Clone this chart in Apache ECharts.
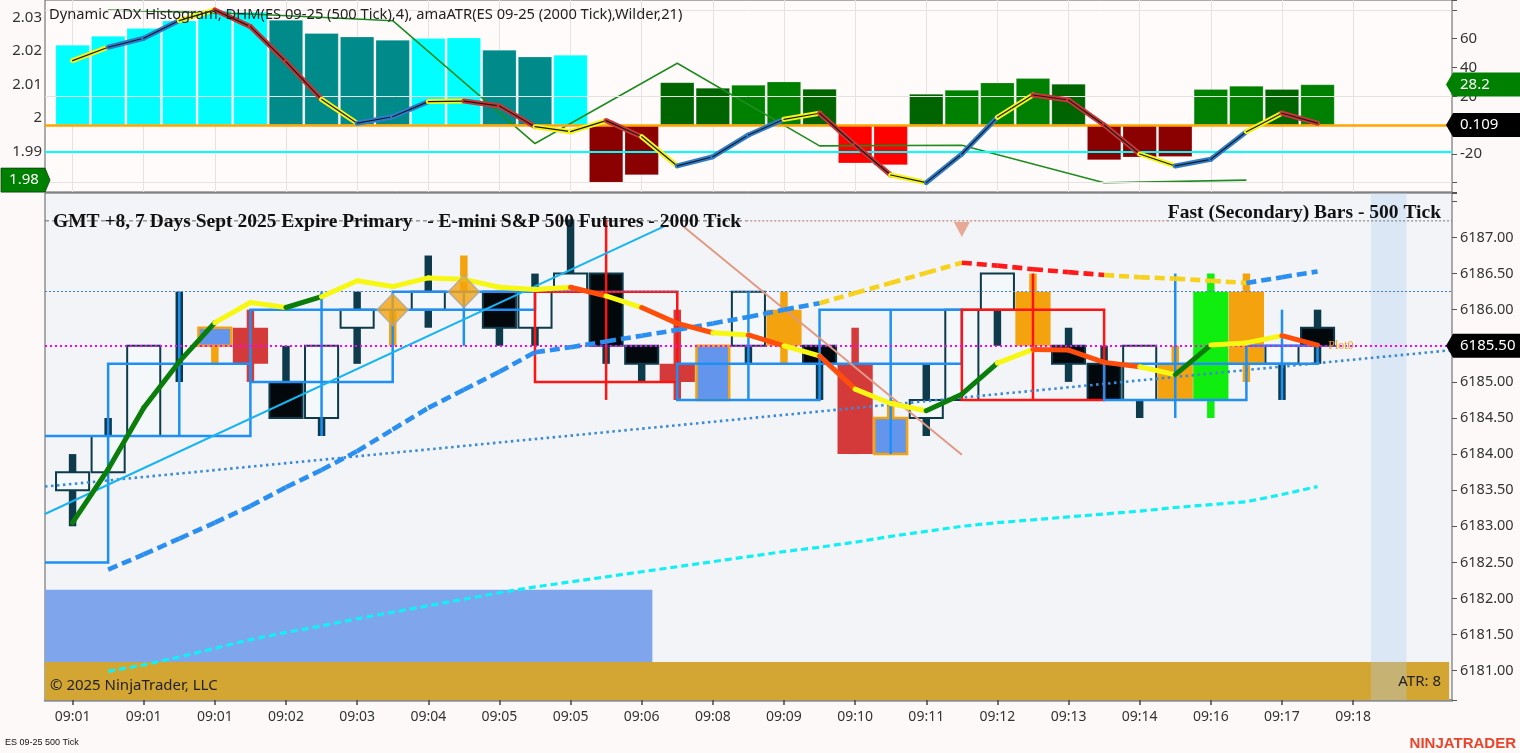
<!DOCTYPE html>
<html><head><meta charset="utf-8">
<script src="https://cdn.jsdelivr.net/npm/echarts@6/dist/echarts.min.js"></script>
<style>html,body{margin:0;padding:0;background:#fdf9f9;}#c{width:1520px;height:753px;}</style>
</head><body><div id="c"></div>
<script>
// ================= DATA =================
const timeLabels = ['09:01','09:01','09:01','09:02','09:03','09:04','09:05','09:05','09:06','09:08','09:09','09:10','09:11','09:12','09:13','09:14','09:16','09:17','09:18'];
const priceTickLabels = ['6181.00','6181.50','6182.00','6182.50','6183.00','6183.50','6184.00','6184.50','6185.00','6185.50','6186.00','6186.50','6187.00'];
const topLeftTickLabels = ['1.99','2','2.01','2.02','2.03'];
const topRightTickLabels = ['-20','20','40','60'];
const topGridLevels = [80, 20, -40];

// --- top panel: histogram (one bar per 500-tick bar) ---
const histVals = [55.7,61.9,67.3,72.6,80.0,78.6,73.0,63.8,61.4,59.1,60.3,60.7,52.2,47.5,48.7,-40.0,-34.7,29.7,25.8,27.9,30.2,25.1,-26.5,-27.7,21.6,24.4,29.5,32.5,28.6,-24.3,-22.4,-22.0,24.9,27.2,24.9,28.2];
const histState = ['c','c','c','c','c','c','t','t','t','t','c','c','t','t','c','m','m','d','d','g','g','d','r','r','d','g','g','g','d','m','m','m','g','g','d','g'];
// --- top panel: ADX line ---
const adxVals = [44.8,54.1,60.3,72.6,80.0,68.4,44.0,17.9,1.3,5.8,16.3,16.7,13.3,-1.1,-4.6,3.1,-8.1,-28.4,-22.0,-6.9,4.0,8.2,-13.8,-34.7,-40.0,-20.1,5.4,20.9,17.4,0.1,-20.1,-28.4,-23.8,-4.6,8.2,1.3];
const adxState = 'YBBYRRRYBBYRRYYRYBBBYRRYBBYRRRYBBYR'.split('');
// --- top panel: amaATR (2000 tick, left axis) ---
const atrSlots = [1,5,9,13,17,21,25,29,33];
const atrVals = [2.0322,2.0310,2.0290,1.9924,2.0163,1.9917,1.9919,1.9807,1.9815];
const atrLevel = 1.9909;
const zeroLineLabel = '0.109';
const zeroLineValue = 0.109;

// --- main panel: 500-tick candles ---
const candleOpen  = [6183.5,6183.75,6184.25,6185.5,6185.5,6185.75,6185.0,6184.5,6185.75,6186.0,6186.0,6186.25,6186.25,6185.75,6186.25,6186.5,6185.5,6185.25,6185.5,6185.5,6186.0,6185.5,6185.25,6184.5,6184.5,6184.75,6186.0,6186.25,6185.5,6185.25,6184.75,6185.25,6186.25,6186.25,6185.25,6185.75];
const candleClose = [6183.75,6184.25,6185.5,6185.5,6185.75,6185.25,6184.5,6185.5,6186.0,6186.0,6186.25,6186.25,6185.75,6186.25,6186.5,6185.5,6185.25,6185.0,6184.75,6186.25,6185.5,6185.25,6184.0,6184.0,6184.75,6186.0,6186.5,6185.5,6185.25,6184.75,6185.5,6184.75,6184.75,6185.25,6185.5,6185.5];
const candleHigh  = [6184.0,6184.5,6185.5,6186.25,6185.75,6186.0,6185.5,6185.5,6186.25,6186.0,6186.75,6186.75,6186.25,6186.5,6187.25,6186.5,6185.5,6186.0,6185.5,6186.25,6186.25,6185.5,6185.75,6184.75,6185.25,6186.0,6186.5,6186.5,6185.75,6185.5,6185.5,6185.5,6186.5,6186.5,6185.5,6186.0];
const candleLow   = [6183.0,6183.75,6184.25,6185.0,6185.25,6185.0,6184.5,6184.25,6185.25,6185.5,6185.75,6186.25,6185.5,6185.5,6186.25,6185.25,6185.0,6184.75,6184.75,6185.25,6185.25,6184.75,6184.0,6184.0,6184.25,6184.75,6185.5,6185.5,6185.0,6184.75,6184.5,6184.75,6184.5,6185.0,6184.75,6185.25];
const candleKind = ['U','U','U','D','B','R','D','U','U','O','U','O','D','U','U','D','D','R','B','U','O','D','R','B','U','U','U','O','D','D','U','O','L','O','U','D'];

// --- main panel: 2000-tick bars (span in 500-tick slots) ---
const boxStart = [-3,1,5,9,13,17,21,25,29,33];
const boxEnd   = [1,5,9,13,17,21,25,29,33,35];
const boxOpen  = [6182.5,6184.25,6185.0,6186.0,6186.25,6184.75,6185.25,6186.0,6184.75,6185.25];
const boxClose = [6184.25,6185.25,6186.0,6186.25,6185.0,6185.25,6186.0,6184.75,6185.25,6185.5];
const boxHigh  = [6184.25,6186.25,6186.25,6186.25,6187.25,6186.25,6186.0,6186.5,6186.5,6186.0];
const boxLow   = [6182.5,6184.25,6184.25,6185.5,6184.75,6184.75,6184.0,6184.75,6184.5,6184.75];

// --- main panel: indicator lines ---
const maVals = [6183.05,6183.79,6184.64,6185.28,6185.82,6186.10,6186.03,6186.18,6186.40,6186.32,6186.44,6186.42,6186.31,6186.28,6186.31,6186.19,6186.03,6185.81,6185.68,6185.65,6185.50,6185.36,6184.90,6184.70,6184.60,6184.83,6185.26,6185.45,6185.44,6185.27,6185.21,6185.10,6185.51,6185.54,6185.64,6185.51];
const maState = 'GGGGYYGYYYYYYYRYRRYRYRYYGGYRRRYGYYR'.split('');
const slowVals = [6182.40,6182.61,6182.83,6183.05,6183.28,6183.54,6183.78,6184.04,6184.34,6184.64,6184.89,6185.14,6185.41,6185.48,6185.56,6185.64,6185.72,6185.81,6185.90,6186.00,6186.09,6186.23,6186.37,6186.51,6186.65,6186.61,6186.56,6186.52,6186.48,6186.45,6186.43,6186.40,6186.37,6186.45,6186.53];
const slowState = 'BBBBBBBBBBBBBBBBBBBBYYYYRRRRYYYYBB'.split('');
const cyanVals = [6180.99,6181.08,6181.19,6181.31,6181.43,6181.53,6181.62,6181.72,6181.81,6181.90,6181.99,6182.08,6182.16,6182.23,6182.30,6182.37,6182.44,6182.51,6182.58,6182.65,6182.71,6182.78,6182.86,6182.93,6183.00,6183.05,6183.09,6183.13,6183.17,6183.21,6183.26,6183.30,6183.34,6183.44,6183.55];
const lineStartSlot = 1;

// drawn objects
const dotTrendX = [-0.775, 38.78], dotTrendY = [6183.55, 6185.44];
const skyTrendX = [-0.775, 16.66], skyTrendY = [6183.17, 6187.16];
const salmonX = [17.155, 25.0], salmonY = [6187.16, 6183.99];
const stripX = [-0.775, 18.94, 30.77, 38.78], stripLevel = 6187.23;
const lastPrice = 6185.5, lastPriceLabel = '6185.50';
const levelLine = 6186.25;
const diamondSlots = [9, 11], diamondVals = [6186.0, 6186.25];
const triSlots = [25], triVals = [6187.11];
const zoneBlue = {x0: -0.775, x1: 16.3, y0: 6182.12, y1: 6181.12};
const zoneGold = {x0: -0.775, x1: 38.7, y0: 6181.12, y1: 6180.0};
const nextBarSlot = 37;
const plotLabelSlot = 35.3;
const atrText = 'ATR: 8';

// ================= STYLES =================
const X_MIN = -0.775, X_MAX = 38.78;
const HIST_COLORS = {c:'#00ffff', t:'#008b8b', m:'#8b0000', d:'#006400', g:'#008000', r:'#ff0000'};
const ADX_COLORS = {Y:'#f4f41c', B:'#2e7dcc', R:'#c83636'};
const MA_COLORS = {G:'#0a7d0a', Y:'#f7f714', R:'#ff4d0c'};
const SLOW_COLORS = {B:'#2b8ff2', Y:'#f7d21c', R:'#ff1a1a'};
const KIND_STYLE = {
  U:{fill:'#f5f8fb', stroke:'#0d3b4b', lw:2, wick:'#0d3b4b', w:0.93},
  D:{fill:'#02080c', stroke:'#0d3b4b', lw:2, wick:'#0d3b4b', w:0.93},
  O:{fill:'#f4a30e', stroke:null, lw:0, wick:'#f4a30e', w:0.99},
  R:{fill:'#d43a3a', stroke:null, lw:0, wick:'#d43a3a', w:0.99},
  L:{fill:'#0fee0f', stroke:null, lw:0, wick:'#0fee0f', w:0.99},
  B:{fill:'#6495ed', stroke:'#f4a30e', lw:2.5, wick:'#f4a30e', w:0.92}
};
const FONT = 'Noto Sans';

function numFmt(labels) {
  return v => { for (const l of labels) { if (Math.abs(parseFloat(l) - v) < 1e-7) return l; } return ''; };
}
function timeFmt(v) {
  const r = Math.round(v);
  if (Math.abs(v - r) > 1e-6 || r % 2 !== 0) return '';
  return timeLabels[r / 2] || '';
}
const timeTickSlots = timeLabels.map((_, i) => i * 2);

function segmentSeries(o) {
  const data = [];
  for (let i = 0; i < o.vals.length - 1; i++) data.push([o.xs[i], o.vals[i], o.xs[i + 1], o.vals[i + 1]]);
  return {
    type:'custom', xAxisIndex:o.xi, yAxisIndex:o.yi, z:o.z, clip:true, silent:true,
    encode:{x:[0,2], y:[1,3]}, data,
    renderItem:(params, api) => {
      const a = api.coord([api.value(0), api.value(1)]);
      const b = api.coord([api.value(2), api.value(3)]);
      const col = o.colors[o.states[params.dataIndex]];
      const ch = [{type:'line', shape:{x1:a[0], y1:a[1], x2:b[0], y2:b[1]},
        style:{stroke:col, lineWidth:o.width, lineDash:o.dash || null, lineCap:o.cap || 'butt', fill:null}}];
      if (o.inner) ch.push({type:'line', shape:{x1:a[0], y1:a[1], x2:b[0], y2:b[1]},
        style:{stroke:o.inner, lineWidth:1.2, lineCap:'round', fill:null}});
      return {type:'group', children:ch};
    }
  };
}
function rectSeries(rects, fills, z) {
  return {
    type:'custom', xAxisIndex:1, yAxisIndex:2, z, clip:true, silent:true,
    encode:{x:[0,1], y:[2,3]},
    data: rects.map(r => [r.x0, r.x1, r.y0, r.y1]),
    renderItem:(params, api) => {
      const a = api.coord([api.value(0), api.value(2)]);
      const b = api.coord([api.value(1), api.value(3)]);
      return {type:'rect', shape:{x:a[0], y:a[1], width:b[0]-a[0], height:b[1]-a[1]}, style:{fill:fills[params.dataIndex]}};
    }
  };
}
const slotXs = (n, start) => Array.from({length:n}, (_, i) => i + start);

const chart = echarts.init(document.getElementById('c'));

const series = [];
// ---------- TOP PANEL ----------
series.push({ // grid lines
  type:'line', xAxisIndex:0, yAxisIndex:1, z:0, silent:true, symbol:'none', data:[[0, 0]],
  lineStyle:{width:0},
  markLine:{silent:true, symbol:'none', label:{show:false}, animation:false,
    data: topGridLevels.map(v => ({yAxis:v, lineStyle:{color:'#e6e2e2', width:1, type:'solid'}}))}
});
series.push({
  type:'bar', xAxisIndex:0, yAxisIndex:1, z:2, barWidth:34, silent:true,
  data: histVals.map((v, i) => ({value:[i, v], itemStyle:{color:HIST_COLORS[histState[i]], borderColor:'rgba(255,255,255,0.35)', borderWidth:0.6}})),
  markLine:{silent:true, symbol:'none', label:{show:false}, animation:false,
    data:[{yAxis:0, lineStyle:{color:'#ffa500', width:2.5, type:'solid'}}]}
});
series.push({
  type:'line', xAxisIndex:0, yAxisIndex:0, z:4, silent:true, symbol:'none',
  data: atrSlots.map((s, i) => [s, atrVals[i]]),
  lineStyle:{color:'#1f8c1f', width:1.6},
  markLine:{silent:true, symbol:'none', label:{show:false}, animation:false,
    data:[{yAxis:atrLevel, lineStyle:{color:'#00ffff', width:2.2, type:'solid'}}]}
});
series.push(segmentSeries({xs:slotXs(adxVals.length, 0), vals:adxVals, states:adxState, colors:ADX_COLORS, width:5, cap:'round', inner:'#1a1a1a', xi:0, yi:1, z:5}));

// ---------- MAIN PANEL ----------
series.push(rectSeries([zoneBlue, zoneGold], ['#7fa6ec', '#d3a634'], 1));
series.push(rectSeries([{x0:nextBarSlot - 0.5, x1:nextBarSlot + 0.5, y0:6190, y1:6170}], ['rgba(173,205,240,0.34)'], 2));
// candles
series.push({
  type:'custom', xAxisIndex:1, yAxisIndex:2, z:3, clip:true, silent:true,
  encode:{x:0, y:[1,2,3,4]},
  data: candleOpen.map((o, i) => [i, o, candleClose[i], candleHigh[i], candleLow[i]]),
  renderItem:(params, api) => {
    const s = api.value(0);
    const st = KIND_STYLE[candleKind[params.dataIndex]];
    const slotW = api.size([1, 0])[0];
    const bw = slotW * st.w, ww = slotW * 0.21;
    const pO = api.coord([s, api.value(1)]), pC = api.coord([s, api.value(2)]);
    const pH = api.coord([s, api.value(3)]), pL = api.coord([s, api.value(4)]);
    const cx = pO[0], top = Math.min(pO[1], pC[1]), bot = Math.max(pO[1], pC[1]);
    const ch = [];
    if (pL[1] - pH[1] > 0.5) ch.push({type:'rect', shape:{x:cx - ww/2, y:pH[1], width:ww, height:pL[1] - pH[1]}, style:{fill:st.wick}});
    if (bot - top > 0.5) ch.push({type:'rect', shape:{x:cx - bw/2, y:top, width:bw, height:bot - top},
      style:{fill:st.fill, stroke:st.stroke, lineWidth:st.lw}});
    return {type:'group', children:ch};
  }
});
// 2000-tick boxes
series.push({
  type:'custom', xAxisIndex:1, yAxisIndex:2, z:4, clip:true, silent:true,
  encode:{x:[0,1], y:[2,3,4,5]},
  data: boxStart.map((s, i) => [s, boxEnd[i], boxOpen[i], boxClose[i], boxHigh[i], boxLow[i]]),
  renderItem:(params, api) => {
    const x0 = api.value(0), x1 = api.value(1), o = api.value(2), c = api.value(3);
    const col = c >= o ? '#1e8ff5' : '#ff1414';
    const a = api.coord([x0, Math.max(o, c)]), b = api.coord([x1, Math.min(o, c)]);
    const xm = (x0 + x1) / 2;
    const h = api.coord([xm, api.value(4)]), l = api.coord([xm, api.value(5)]);
    return {type:'group', children:[
      {type:'line', shape:{x1:h[0], y1:h[1], x2:l[0], y2:l[1]}, style:{stroke:col, lineWidth:2.5}},
      {type:'rect', shape:{x:a[0], y:a[1], width:b[0] - a[0], height:b[1] - a[1]}, style:{fill:null, stroke:col, lineWidth:2.5}}
    ]};
  }
});
// horizontal levels
series.push({
  type:'line', xAxisIndex:1, yAxisIndex:2, z:5, silent:true, symbol:'none', data:[[0, lastPrice]], lineStyle:{width:0},
  markLine:{silent:true, symbol:'none', label:{show:false}, animation:false, data:[
    {yAxis:levelLine, lineStyle:{color:'#3f7fe0', width:1, type:[2,2]}},
    {yAxis:lastPrice, lineStyle:{color:'#ff00ff', width:2.2, type:[2,3]}}
  ]}
});
// strip line through title
const stripStyles = [{color:'#666', type:[4,3], width:1}, {color:'#b46a5a', type:[2,2], width:1}, {color:'#777', type:[2,2], width:1}];
for (let i = 0; i < stripX.length - 1; i++) {
  series.push({type:'line', xAxisIndex:1, yAxisIndex:2, z:5, silent:true, symbol:'none',
    data:[[stripX[i], stripLevel], [stripX[i + 1], stripLevel]], lineStyle:stripStyles[i]});
}
series.push({type:'line', xAxisIndex:1, yAxisIndex:2, z:6, silent:true, symbol:'none',
  data: dotTrendX.map((x, i) => [x, dotTrendY[i]]), lineStyle:{color:'#3a8ad6', width:2.6, type:[2.5,3.5]}});
series.push({type:'line', xAxisIndex:1, yAxisIndex:2, z:6, silent:true, symbol:'none',
  data: skyTrendX.map((x, i) => [x, skyTrendY[i]]), lineStyle:{color:'#17b4f2', width:2}});
series.push({type:'line', xAxisIndex:1, yAxisIndex:2, z:6, silent:true, symbol:'none',
  data: salmonX.map((x, i) => [x, salmonY[i]]), lineStyle:{color:'#e09a84', width:2}});
series.push({type:'line', xAxisIndex:1, yAxisIndex:2, z:6, silent:true, symbol:'none',
  data: cyanVals.map((v, i) => [i + lineStartSlot, v]), lineStyle:{color:'#13f0f5', width:3.2, type:[7,4]}});
series.push(segmentSeries({xs:slotXs(slowVals.length, lineStartSlot), vals:slowVals, states:slowState, colors:SLOW_COLORS, width:4.6, dash:[10,5], xi:1, yi:2, z:7}));
series.push(segmentSeries({xs:slotXs(maVals.length, 0), vals:maVals, states:maState, colors:MA_COLORS, width:5, cap:'round', xi:1, yi:2, z:8}));
series.push({type:'scatter', xAxisIndex:1, yAxisIndex:2, z:9, silent:true, symbol:'diamond', symbolSize:[31,32],
  data: diamondSlots.map((s, i) => [s, diamondVals[i]]), itemStyle:{color:'#f4a30e', borderColor:'#a8a8a8', borderWidth:1.5}});
series.push({type:'scatter', xAxisIndex:1, yAxisIndex:2, z:9, silent:true, symbol:'triangle', symbolRotate:180, symbolSize:[16,15],
  data: triSlots.map((s, i) => [s, triVals[i]]), itemStyle:{color:'#e4967c'}});

const axisLabelBase = {color:'#333', fontSize:14, fontFamily:FONT, padding:[4,0,0,0]};
const option = {
  animation:false,
  backgroundColor:'#fdf9f9',
  grid:[
    {left:45, right:68, top:0, height:192, show:true, backgroundColor:'#fffbfb', borderColor:'#5a5a5a', borderWidth:1, containLabel:false, outerBoundsMode:'none'},
    {left:45, right:68, top:193, height:507, show:true, backgroundColor:'#f3f4f7', borderColor:'#5a5a5a', borderWidth:1, containLabel:false, outerBoundsMode:'none'}
  ],
  xAxis:[
    {gridIndex:0, type:'value', min:X_MIN, max:X_MAX, minInterval:2, maxInterval:2,
      axisLine:{show:false, onZero:false}, axisTick:{show:false, customValues:timeTickSlots}, axisLabel:{show:false, customValues:timeTickSlots},
      splitLine:{show:true, lineStyle:{color:'#e6e2e2', width:1}}},
    {gridIndex:1, type:'value', min:X_MIN, max:X_MAX, minInterval:2, maxInterval:2,
      axisLine:{show:true, onZero:false, lineStyle:{color:'#8e8e8e', width:2.5}},
      axisTick:{show:true, length:5, lineStyle:{color:'#444', width:1.5}, customValues:timeTickSlots},
      axisLabel:{show:true, customValues:timeTickSlots, formatter:timeFmt, color:'#333', fontSize:14, fontFamily:FONT, margin:10},
      splitLine:{show:false}}
  ],
  yAxis:[
    {gridIndex:0, type:'value', position:'left', min:1.97796, max:2.03516, minInterval:0.01, maxInterval:0.01,
      axisLine:{show:false, onZero:false}, axisTick:{show:false}, splitLine:{show:false},
      axisLabel:Object.assign({}, axisLabelBase, {fontSize:15, margin:3, formatter:numFmt(topLeftTickLabels)})},
    {gridIndex:0, type:'value', position:'right', min:-46.5, max:86.9, minInterval:20, maxInterval:20,
      axisLine:{show:false, onZero:false}, axisTick:{show:true, length:5, lineStyle:{color:'#555'}}, splitLine:{show:false},
      axisLabel:Object.assign({}, axisLabelBase, {fontSize:15, margin:8, formatter:numFmt(topRightTickLabels)})},
    {gridIndex:1, type:'value', position:'right', min:6180.594, max:6187.616, minInterval:0.5, maxInterval:0.5,
      axisLine:{show:false, onZero:false}, axisTick:{show:true, length:5, lineStyle:{color:'#555'}}, splitLine:{show:false},
      axisLabel:Object.assign({}, axisLabelBase, {fontSize:14.5, margin:8, formatter:numFmt(priceTickLabels)})}
  ],
  series
};
chart.setOption(option);

// ---------- labels positioned through the library scales ----------
const yPix = (axis, v) => chart.convertToPixel({yAxisIndex:axis}, v);
const xPix = (axis, v) => chart.convertToPixel({xAxisIndex:axis}, v);
function rightFlag(y, text, fill) {
  return [
    {type:'polygon', z:100, shape:{points:[[1446, y], [1453, y - 12], [1520, y - 12], [1520, y + 12], [1453, y + 12]]}, style:{fill}},
    {type:'text', z:101, x:1460, y, style:{text, fill:'#fff', font:'15px "' + FONT + '"', verticalAlign:'middle', align:'left'}}
  ];
}
const yAtr = yPix(0, atrVals[atrVals.length - 1]);
const graphics = [
  {type:'text', z:100, x:49, y:15, style:{text:'Dynamic ADX Histogram, DHM(ES 09-25 (500 Tick),4), amaATR(ES 09-25 (2000 Tick),Wilder,21)', fill:'#222', font:'14.7px "' + FONT + '"', verticalAlign:'middle'}},
  {type:'polygon', z:100, shape:{points:[[1, yAtr - 12], [45, yAtr - 12], [50, yAtr], [45, yAtr + 12], [1, yAtr + 12]]}, style:{fill:'#008000', stroke:'#0b3d0b', lineWidth:0.8}},
  {type:'text', z:101, x:24, y:yAtr, style:{text:atrVals[atrVals.length - 1].toFixed(2), fill:'#fff', font:'15px "' + FONT + '"', verticalAlign:'middle', align:'center'}},
  ...rightFlag(yPix(1, histVals[histVals.length - 1]), histVals[histVals.length - 1].toFixed(1), '#008000'),
  ...rightFlag(yPix(1, zeroLineValue), zeroLineLabel, '#000'),
  ...rightFlag(yPix(2, lastPrice), lastPriceLabel, '#000'),
  {type:'text', z:100, x:53, y:221.5, style:{text:'GMT +8, 7 Days Sept 2025 Expire Primary   - E-mini S&P 500 Futures - 2000 Tick', fill:'#111', font:'bold 19.5px "Liberation Serif"', verticalAlign:'middle'}},
  {type:'text', z:100, x:1441, y:213, style:{text:'Fast (Secondary) Bars - 500 Tick', fill:'#111', font:'bold 19.5px "Liberation Serif"', verticalAlign:'middle', align:'right'}},
  {type:'text', z:100, x:xPix(1, plotLabelSlot), y:yPix(2, lastPrice), style:{text:'Plot0', fill:'#f0a21c', font:'12px "Liberation Serif"', verticalAlign:'middle'}},
  {type:'text', z:100, x:50, y:686, style:{text:'\u00A9 2025 NinjaTrader, LLC', fill:'#222', font:'15px "' + FONT + '"', verticalAlign:'middle'}},
  {type:'text', z:100, x:1441, y:682, style:{text:atrText, fill:'#222', font:'15px "' + FONT + '"', verticalAlign:'middle', align:'right'}},
  {type:'text', z:100, x:5, y:743, style:{text:'ES 09-25 500 Tick', fill:'#111', font:'9px "Liberation Sans"', verticalAlign:'middle'}},
  {type:'text', z:100, x:1516, y:744, style:{text:'NINJATRADER', fill:'#e8452c', font:'bold 15px "Liberation Sans"', verticalAlign:'middle', align:'right'}}
];
chart.setOption({graphic:graphics});
</script></body></html>
